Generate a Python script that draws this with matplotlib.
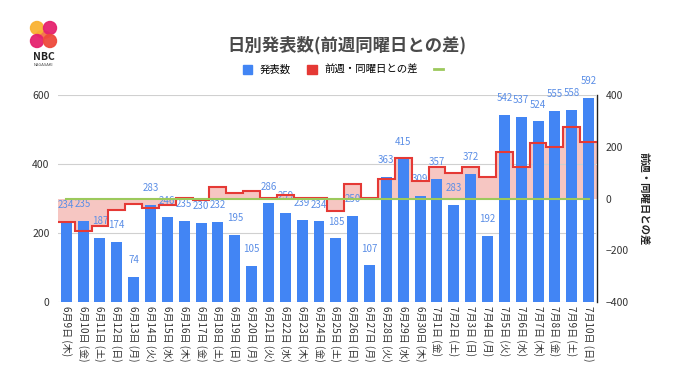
import matplotlib
matplotlib.use("Agg")
import matplotlib.pyplot as plt
import numpy as np
from matplotlib.patches import Patch, Ellipse
from matplotlib.lines import Line2D

plt.rcParams['font.family'] = ['Noto Sans CJK JP', 'DejaVu Sans']

dates = ["6月9日", "6月10日", "6月11日", "6月12日", "6月13日", "6月14日", "6月15日",
         "6月16日", "6月17日", "6月18日", "6月19日", "6月20日", "6月21日", "6月22日",
         "6月23日", "6月24日", "6月25日", "6月26日", "6月27日", "6月28日", "6月29日",
         "6月30日", "7月1日", "7月2日", "7月3日", "7月4日", "7月5日", "7月6日",
         "7月7日", "7月8日", "7月9日", "7月10日"]
weekdays = ["木", "金", "土", "日", "月", "火", "水",
            "木", "金", "土", "日", "月", "火", "水",
            "木", "金", "土", "日", "月", "火", "水",
            "木", "金", "土", "日", "月", "火", "水",
            "木", "金", "土", "日"]
counts = [234, 235, 187, 174, 74, 283, 246,
          235, 230, 232, 195, 105, 286, 259,
          239, 234, 185, 250, 107, 363, 415,
          309, 357, 283, 372, 192, 542, 537,
          524, 555, 558, 592]
diffs = [-90, -126, -106, -42, -21, -38, -24,
         1, -5, 45, 21, 31, 3, 13,
         4, 4, -47, 55, 2, 77, 156,
         70, 123, 98, 122, 85, 179, 122,
         215, 198, 275, 220]
zero_ref = [0] * len(counts)

labels = [f"{d} ({w})" for d, w in zip(dates, weekdays)]

BLUE = '#4285f4'
RED = '#e53935'
PINK = '#f6c6c2'
GREEN = '#9cc95c'
LBLUE = '#5b8ee6'

fig = plt.figure(figsize=(6.8, 3.82), dpi=100)
pos = [0.085, 0.209, 0.793, 0.542]

ax2 = fig.add_axes(pos)             # right axis: fill (bottom layer)
ax = fig.add_axes(pos, sharex=ax2)  # bars
ax3 = fig.add_axes(pos, sharex=ax2) # lines on top
ax.patch.set_visible(False)
ax3.patch.set_visible(False)

x = np.arange(len(counts))
edges = np.arange(len(counts) + 1) - 0.5

# fill (right scale)
ax2.stairs(diffs, edges, baseline=0, fill=True, color=PINK, zorder=1)
ax2.set_ylim(-400, 400)
ax2.set_yticks([-400, -200, 0, 200, 400])
ax2.yaxis.tick_right()
ax2.yaxis.set_label_position('right')
ax2.tick_params(axis='y', labelsize=7.5, colors='#333333', length=0, pad=6)
for s in ['top', 'left', 'bottom']:
    ax2.spines[s].set_visible(False)
ax2.spines['right'].set_color('#222222')
ax2.spines['right'].set_linewidth(1.0)
ax2.set_ylabel("前週・同曜日との差", rotation=270, labelpad=14, fontsize=7.5,
               color='#222222', fontweight='bold')

# bars (left scale)
ax.set_ylim(0, 600)
ax.set_yticks([0, 200, 400, 600])
ax.grid(axis='y', color='#d0d0d0', linewidth=0.8, zorder=0)
ax.set_axisbelow(True)
ax.bar(x, counts, width=0.65, color=BLUE, zorder=2)
for xi, c in zip(x, counts):
    ax.annotate(str(c), (xi, c), xytext=(0, 12), textcoords='offset points',
                ha='center', va='center', fontsize=7, color=LBLUE, zorder=5)
ax.tick_params(axis='y', labelsize=7.5, colors='#333333', length=0, pad=6)
for s in ['top', 'left', 'right', 'bottom']:
    ax.spines[s].set_visible(False)
ax.set_xlim(-0.5, len(counts) - 0.5)
ax.set_xticks(x)
ax.set_xticklabels(labels, rotation=-90, fontsize=7.2, color='#333333')
ax.tick_params(axis='x', length=0, pad=3)

# lines (right scale, top layer)
ax3.set_ylim(-400, 400)
ax3.stairs(diffs, edges, baseline=None, color=RED, linewidth=1.5, zorder=3)
ax3.plot(x, zero_ref, color=GREEN, linewidth=1.5, zorder=3)
ax3.axis('off')
ax2.tick_params(axis='x', labelbottom=False, length=0)

# title
fig.text(0.51, 0.882, "日別発表数(前週同曜日との差)", ha='center', va='center',
         fontsize=12.5, fontweight='bold', color='#4a4a4a')

# legend
handles = [Patch(color=BLUE), Patch(color=RED),
           Line2D([0], [0], color=GREEN, linewidth=2)]
fig.legend(handles, ["発表数", "前週・同曜日との差", ""], loc='center',
           bbox_to_anchor=(0.51, 0.817), ncol=3, frameon=False, fontsize=7.5,
           handlelength=0.9, handleheight=0.9, columnspacing=1.6, handletextpad=0.7)

# logo
W, H = 680.0, 382.0
logo = [(37, 28, '#f9b233'), (50, 28, '#e5236f'),
        (37, 41, '#e5236f'), (50, 41, '#ee4a3b')]
fig.patches.append(Ellipse((43.5 / W, 1 - 34.5 / H), 14 / W, 7 / H, angle=-35,
                           transform=fig.transFigure, color='#f26b3a', alpha=0.9))
for cx, cy, col in logo:
    fig.patches.append(Ellipse((cx / W, 1 - cy / H), 13 / W, 13 / H,
                               transform=fig.transFigure, color=col, alpha=0.95))
fig.text(43.5 / W, 1 - 57 / H, "NBC", ha='center', va='center', fontsize=7.5,
         color='#222222', fontweight='bold')
fig.text(43.5 / W, 1 - 65.5 / H, "NAGASAKI", ha='center', va='center', fontsize=3,
         color='#444444')

fig.savefig("out.png", dpi=100)
